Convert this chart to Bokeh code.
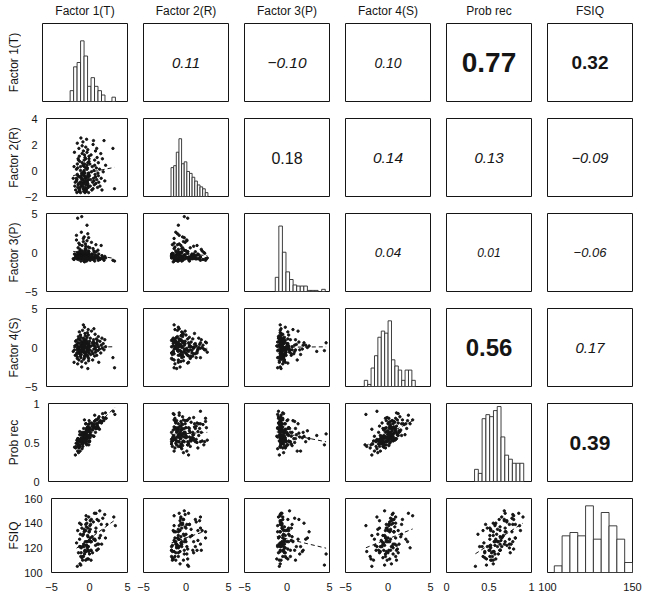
import numpy as np
from bokeh.plotting import figure
from bokeh.layouts import column, row
from bokeh.models import Range1d, FixedTicker, Spacer
from bokeh.core.properties import value
from bokeh.embed import file_html
from bokeh.resources import INLINE

names = ["Factor 1(T)", "Factor 2(R)", "Factor 3(P)", "Factor 4(S)", "Prob rec", "FSIQ"]

f1 = [-1.7, -1.6, -1.5, -1.45, -1.55, -1.4, -1.3, -1.25, -1.2, -1.15,
      -1.1, -1.05, -1.0, -1.3, -1.2, -1.1, -1.0, -0.95, -1.25, -1.15,
      -1.05, -1.2, -1.1, -1.0, -1.3, -0.95, -0.9, -0.85, -0.8, -0.75,
      -0.7, -0.65, -0.6, -0.55, -0.9, -0.8, -0.7, -0.6, -0.85, -0.75,
      -0.65, -0.55, -0.9, -0.8, -0.7, -0.6, -0.75, -0.65, -0.5, -0.45,
      -0.4, -0.35, -0.3, -0.25, -0.2, -0.15, -0.5, -0.45, -0.4, -0.35,
      -0.3, -0.25, -0.2, -0.15, -0.5, -0.45, -0.4, -0.35, -0.3, -0.25,
      -0.2, -0.15, -0.5, -0.4, -0.3, -0.2, -0.45, -0.35, -0.25, -0.15,
      -0.1, -0.05, 0.0, 0.05, 0.1, 0.15, 0.2, 0.25, -0.1, 0.0,
      0.1, 0.2, -0.05, 0.05, 0.15, 0.25, -0.1, 0.0, 0.1, 0.2,
      -0.05, 0.05, 0.15, 0.25, 0.0, 0.1, 0.2, 0.3, 0.35, 0.4,
      0.45, 0.5, 0.55, 0.6, 0.65, 0.7, 0.75, 0.8, 0.85, 0.9,
      0.95, 1.0, 1.05, 0.75, 0.85, 0.95, 1.05, 0.8, 1.1, 1.15,
      1.2, 1.25, 1.3, 1.35, 1.4, 1.45, 1.2, 1.4, 1.55, 1.6,
      1.7, 1.75, 1.85, 1.9, 2.0, 2.1, 2.2, 2.3, 3.2, 3.4]

f2 = [-0.6, 0.3, -1.2, -0.9, 1.4, -1.5, 0.1, -0.7, 2.1, -1.3,
      -0.4, 0.8, -1.6, -0.8, 0.5, -1.1, 1.7, -0.5, -1.7, 0.2,
      -1.0, -0.3, 0.9, -1.4, -0.6, 1.1, -1.5, -0.9, 0.0, 2.5,
      -1.2, -0.7, 0.6, -0.2, -1.6, 0.3, -0.9, 1.3, -1.3, -0.5,
      -0.2, -1.0, 0.7, -1.7, -0.4, 1.9, -1.1, -0.6, 0.4, -1.4,
      -0.8, 0.0, -1.5, 1.0, -0.5, -1.1, 2.2, -0.3, -1.6, 0.8,
      -0.9, -0.2, -1.3, 0.2, -0.7, 1.5, -1.0, -0.4, 0.5, -1.7,
      -0.6, 0.9, -1.2, -0.1, 1.2, -0.8, -1.4, 0.3, -0.5, 1.8,
      -1.5, -0.9, 0.1, -0.4, 0.6, -1.2, -0.7, 1.1, -1.6, 0.4,
      -1.0, -0.3, 2.4, -0.8, -1.3, 0.7, -0.6, 1.4, -1.1, -0.2,
      -1.4, 0.2, -0.5, 0.9, -0.9, 1.6, -1.7, -0.4, 0.5, -1.2,
      -0.7, 1.2, -0.1, -1.5, 0.3, -0.9, 2.0, -0.6, 0.0, -1.1,
      0.8, -0.3, 1.5, -1.4, -0.8, 0.4, -0.5, 2.3, -1.0, 0.2,
      -0.7, 1.0, -1.3, -0.2, 0.6, -0.9, 1.7, -0.4, 0.1, -1.2,
      1.3, -0.6, -1.5, 0.9, -0.1, 2.3, -0.8, 0.4, 1.7, -1.4]

f3 = [-0.8, -0.9, -0.7, -0.3, -0.2, -0.6, 1.6, -0.8, 0.0, -0.5,
      0.6, -0.7, -0.1, 2.2, -0.8, -0.3, -0.6, 0.1, -0.7, 4.4,
      -0.9, -0.4, -0.2, 1.2, -0.6, -0.8, -0.5, 0.4, 0.2, -0.7,
      2.6, -0.8, -0.4, -0.3, 1.0, -0.7, 0.1, 0.9, -0.6, -1.1,
      4.6, -0.8, -0.5, -0.2, -0.7, 0.2, -0.3, -0.4, -0.8, 1.8,
      -0.9, -0.6, -1.2, -0.7, 0.5, -0.4, -0.1, 1.4, -0.6, -0.5,
      -0.2, 0.3, -0.7, 0.1, 0.0, -0.8, -1.1, 2.0, -0.6, -0.5,
      -0.9, 0.8, -0.7, -0.3, -0.4, 1.1, -0.8, -0.6, 0.0, 0.4,
      -0.7, -1.1, 1.5, -0.8, -0.5, 0.2, -0.6, 0.1, -0.4, -0.7,
      2.4, -0.9, -0.8, -0.6, 0.7, -0.2, -0.5, -0.3, -0.7, 1.9,
      -0.8, -0.1, -0.6, -0.4, 3.5, -0.8, -0.4, -0.7, 0.6, -1.0,
      -0.5, -0.8, 1.3, -0.2, -0.6, -0.3, -0.9, -0.7, 0.2, 0.0,
      -0.8, -0.5, -0.3, 0.5, -0.7, -1.1, -0.6, -0.8, 1.0, 0.1,
      -0.7, -0.5, -0.5, 0.3, -0.8, -0.2, -0.6, -1.0, -0.7, -0.9,
      -0.8, 0.9, -0.4, -0.7, -0.8, -1.0, -0.5, -0.7, -1.0, -1.1]

f4 = [-0.5, -1.9, 0.2, -1.0, -0.3, 0.8, -0.9, 0.4, -0.2, -2.1,
      0.1, 1.1, -0.6, 0.3, -1.4, 0.6, -0.1, 2.0, -0.7, -0.4,
      1.4, -1.2, 0.0, -1.6, 0.9, -0.8, 0.5, -0.3, 1.6, -0.6,
      0.2, -2.5, 0.7, -0.2, 1.0, -1.1, 0.3, -0.5, 0.1, -1.3,
      0.6, 2.2, -0.4, 0.9, -0.9, 0.0, 1.3, -1.8, 0.4, -0.2,
      1.1, -0.7, 0.2, 1.8, -1.0, 0.5, -0.3, 0.7, -1.5, 0.0,
      2.6, -0.6, 0.9, -2.0, 0.3, 1.2, -0.4, 0.6, -1.1, 0.1,
      1.5, -0.8, -0.1, 0.8, -1.3, 0.4, 2.9, -0.5, 0.0, 1.0,
      -0.6, 0.7, -0.3, 1.9, -1.2, 0.2, -0.4, 0.5, -0.9, 1.3,
      0.0, -1.7, 0.6, 0.1, 2.3, -0.7, 0.9, -0.2, -2.7, 0.3,
      0.7, -1.0, 1.6, 0.0, -0.5, 0.4, -1.4, 0.8, -0.3, 1.2,
      -0.9, 0.2, 2.1, -0.5, 0.6, -1.6, 0.3, 1.0, -0.2, 0.5,
      -1.1, 1.7, 0.0, -0.8, 2.4, 0.2, -0.6, 0.7, -0.3, 1.1,
      -1.0, 0.4, 0.9, -0.4, 0.1, -1.9, 0.6, 1.4, -0.2, 0.8,
      -0.7, 0.3, 1.2, -0.1, 0.5, -0.3, 1.0, 0.1, -1.3, -2.6]

prob_rec = [0.44, 0.34, 0.49, 0.45, 0.43, 0.53, 0.39, 0.55, 0.47, 0.43,
            0.46, 0.60, 0.45, 0.51, 0.45, 0.52, 0.51, 0.60, 0.48, 0.47,
            0.64, 0.37, 0.53, 0.39, 0.55, 0.51, 0.53, 0.51, 0.59, 0.53,
            0.55, 0.45, 0.55, 0.57, 0.55, 0.48, 0.60, 0.50, 0.54, 0.42,
            0.61, 0.68, 0.55, 0.54, 0.51, 0.52, 0.63, 0.48, 0.57, 0.56,
            0.60, 0.56, 0.58, 0.74, 0.48, 0.65, 0.51, 0.62, 0.52, 0.56,
            0.74, 0.51, 0.68, 0.47, 0.63, 0.59, 0.57, 0.58, 0.53, 0.63,
            0.66, 0.55, 0.53, 0.63, 0.54, 0.60, 0.79, 0.50, 0.61, 0.63,
            0.57, 0.69, 0.57, 0.73, 0.52, 0.69, 0.56, 0.68, 0.55, 0.65,
            0.65, 0.52, 0.69, 0.57, 0.78, 0.56, 0.65, 0.64, 0.47, 0.63,
            0.70, 0.51, 0.74, 0.60, 0.59, 0.68, 0.51, 0.67, 0.63, 0.75,
            0.59, 0.71, 0.74, 0.66, 0.69, 0.58, 0.73, 0.71, 0.69, 0.78,
            0.63, 0.79, 0.74, 0.58, 0.85, 0.68, 0.68, 0.77, 0.68, 0.79,
            0.71, 0.70, 0.81, 0.68, 0.76, 0.67, 0.74, 0.83, 0.78, 0.76,
            0.75, 0.77, 0.87, 0.82, 0.78, 0.81, 0.88, 0.81, 0.90, 0.86]

fsiq = [124, 105, None, 116, 134, None, 121, 107, None, 113,
        139, None, 112, 127, None, 120, 136, None, 121, 106,
        None, 131, 116, None, 140, 121, None, 113, 131, None,
        133, 117, None, 125, 110, None, 135, 118, None, 121,
        115, None, 130, 113, None, 134, 123, None, 139, 117,
        None, 125, 111, None, 136, 121, None, 143, 122, None,
        120, 130, None, 111, 134, None, 122, 140, None, 118,
        129, None, 110, 137, None, 121, 146, None, 125, 118,
        None, 133, 115, None, 135, 125, None, 143, 117, None,
        128, 110, None, 138, 125, None, 145, 126, None, 118,
        133, None, 139, 125, None, 142, 118, None, 129, 116,
        None, 141, 127, None, 148, 127, None, 122, 136, None,
        118, 143, None, 126, 148, None, 123, 133, None, 119,
        142, None, 128, 150, None, 130, 123, None, 139, 123,
        None, 144, 134, None, 147, 128, None, 139, 145, 138]

# histogram bins on the diagonal (first bin edge, bin width, counts)
hist_start = [-1.75, -1.76, -1.38, -2.79, 0.33, 104.0]
hist_width = [0.41, 0.31, 0.42, 0.40, 0.0445, 4.6]
hist_counts = [
    [5, 16, 18, 28, 21, 7, 11, 7, 5, 3, 0, 0, 2],
    [15, 16, 23, 30, 17, 18, 13, 12, 10, 8, 6, 5, 4, 2],
    [13, 60, 36, 18, 11, 6, 5, 5, 5, 1, 1, 1, 0, 2],
    [3, 1, 9, 15, 24, 27, 26, 32, 13, 10, 8, 3, 8, 8, 3],
    [6, 4, 31, 33, 32, 35, 37, 22, 13, 11, 9, 9, 9],
    [2, 11, 12, 11, 20, 10, 18, 14, 10, 3],
]
hist_ymax = [36, 40.5, 71.5, 38, 38.5, 22.2]

# correlations, upper triangle, row by row
corr_values = [0.11, -0.10, 0.10, 0.77, 0.32,
               0.18, 0.14, 0.13, -0.09,
               0.04, 0.01, -0.06,
               0.56, 0.17,
               0.39]
corr_font_style = ["italic", "italic", "italic", "bold", "bold",
                   "normal", "italic", "italic", "italic",
                   "italic", "italic", "italic",
                   "bold", "italic",
                   "bold"]
corr_font_px = [15, 15.5, 14, 28, 19,
                16, 15.5, 15, 14.5,
                13.5, 12, 13,
                24, 15,
                21]

x_lo = [-5, -5, -5, -5, 0, 100]
x_hi = [5, 5, 5, 5, 1, 150]
y_lo = [-5, -2, -5, -5, 0, 100]
y_hi = [5, 4, 5, 5, 1, 160]
x_ticks = [[-5, 0, 5], [-5, 0, 5], [-5, 0, 5], [-5, 0, 5], [0, 0.5, 1], [100, 150]]
x_tick_labels = [["\u22125", "0", "5"]] * 4 + [["0", "0.5", "1"], ["100", "150"]]
y_ticks = [[], [-2, 0, 2, 4], [-5, 0, 5], [-5, 0, 5], [0, 0.5, 1], [100, 120, 140, 160]]
y_tick_labels = [[], ["\u22122", "0", "2", "4"], ["\u22125", "0", "5"], ["\u22125", "0", "5"],
                 ["0", "0.5", "1"], ["100", "120", "140", "160"]]

FONT = "Liberation Sans"
INK = "#151515"
N = 6
FRAME_W, FRAME_H = 85, 78
LABEL_W, TITLE_H = 21, 20
data = [np.array(v, dtype=float) for v in (f1, f2, f3, f4, prob_rec, fsiq)]


def borders(i, j):
    left = 21 if j == 0 else 10
    right = 10 if j == N - 1 else 6
    top = 3 if i == 0 else 8
    bottom = 17 if i == N - 1 else 9
    return left, right, top, bottom


def bare(width, height, left, right, top, bottom):
    p = figure(width=width, height=height, x_range=Range1d(0, 1), y_range=Range1d(0, 1),
               toolbar_location=None, output_backend="svg",
               x_axis_location=None, y_axis_location=None,
               min_border_left=left, min_border_right=right,
               min_border_top=top, min_border_bottom=bottom,
               outline_line_color=None, background_fill_color=None, border_fill_color=None)
    p.xgrid.grid_line_color = None
    p.ygrid.grid_line_color = None
    return p


# column headers
header = [Spacer(width=LABEL_W, height=TITLE_H)]
for j in range(N):
    l, r, _, _ = borders(0, j)
    h = bare(l + FRAME_W + r, TITLE_H, l, r, 0, 0)
    h.text(x=[0.5], y=[0.5], text=[names[j]], text_align="center", text_baseline="middle",
           text_font=value(FONT), text_font_size="12px", text_color=INK)
    header.append(h)

rows = [row(*header, spacing=0)]
k = 0
for i in range(N):
    _, _, t, b = borders(i, 0)
    lab = bare(LABEL_W, t + FRAME_H + b, 0, 0, t, b)
    lab.text(x=[0.63], y=[0.5], text=[names[i]], angle=np.pi / 2,
             text_align="center", text_baseline="middle",
             text_font=value(FONT), text_font_size="12px", text_color=INK)
    cells = [lab]
    for j in range(N):
        left, right, top, bottom = borders(i, j)
        if i == j:
            yr = Range1d(0, hist_ymax[i])
        else:
            yr = Range1d(y_lo[i], y_hi[i])
        p = figure(width=left + FRAME_W + right, height=top + FRAME_H + bottom,
                   x_range=Range1d(x_lo[j], x_hi[j]), y_range=yr,
                   toolbar_location=None, output_backend="svg",
                   x_axis_location="below" if i == N - 1 else None,
                   y_axis_location="left" if (j == 0 and i > 0) else None,
                   min_border_left=left, min_border_right=right,
                   min_border_top=top, min_border_bottom=bottom,
                   background_fill_color="white", border_fill_color="white",
                   outline_line_color=INK, outline_line_width=1)
        p.xgrid.grid_line_color = None
        p.ygrid.grid_line_color = None
        if i == N - 1:
            ax = p.xaxis[0]
            ax.ticker = FixedTicker(ticks=x_ticks[j])
            ax.major_label_overrides = dict(zip(x_ticks[j], x_tick_labels[j]))
            ax.axis_line_color = None
            ax.major_tick_line_color = None
            ax.minor_tick_line_color = None
            ax.major_label_text_font = FONT
            ax.major_label_text_font_size = "11px"
            ax.major_label_text_color = INK
            ax.major_label_standoff = 4
        if j == 0 and i > 0:
            ay = p.yaxis[0]
            ay.ticker = FixedTicker(ticks=y_ticks[i])
            ay.major_label_overrides = dict(zip(y_ticks[i], y_tick_labels[i]))
            ay.axis_line_color = None
            ay.major_tick_line_color = None
            ay.minor_tick_line_color = None
            ay.major_label_text_font = FONT
            ay.major_label_text_font_size = "11px"
            ay.major_label_text_color = INK
            ay.major_label_standoff = 3

        if i == j:
            counts = hist_counts[i]
            edges = hist_start[i] + hist_width[i] * np.arange(len(counts) + 1)
            p.quad(left=edges[:-1], right=edges[1:], bottom=0, top=counts,
                   fill_color="white", line_color="#2a2a2a", line_width=0.9)
        elif i > j:
            x = data[j]
            y = data[i]
            m = ~np.isnan(x) & ~np.isnan(y)
            p.scatter(x[m], y[m], size=2.4, marker="circle", color=INK)
            slope, icept = np.polyfit(x[m], y[m], 1)
            xs = np.array([x[m].min(), x[m].max()])
            p.line(xs, icept + slope * xs, line_dash="4 3", line_color=INK, line_width=1)
        else:
            r = corr_values[k]
            txt = f"{r:.2f}".replace("-", "\u2212")
            p.text(x=[(x_lo[j] + x_hi[j]) / 2], y=[(y_lo[i] + y_hi[i]) / 2], text=[txt],
                   text_align="center", text_baseline="middle",
                   text_font=value(FONT), text_font_size=f"{corr_font_px[k]}px",
                   text_font_style=corr_font_style[k], text_color=INK)
            k += 1
        cells.append(p)
    rows.append(row(*cells, spacing=0))

layout = column(*rows, spacing=0)
open("out.html", "w").write(file_html(layout, INLINE, "Scatterplot matrix"))
